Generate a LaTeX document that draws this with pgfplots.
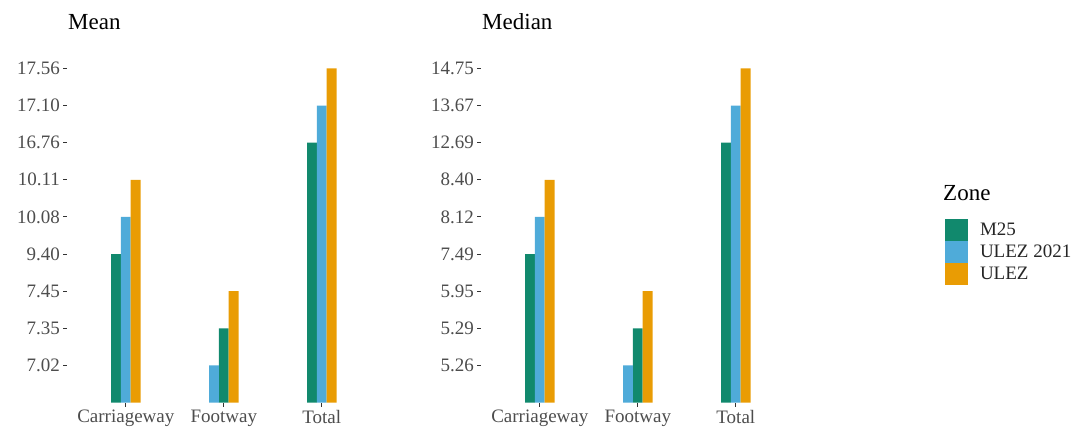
\documentclass[border=0pt]{standalone}
\usepackage{pgfplots}
\pgfplotsset{compat=1.18}
\usepackage{pgfplotstable}
\usepackage{fontspec}
\setmainfont{Liberation Serif}
\definecolor{cM}{HTML}{11896D}
\definecolor{cU}{HTML}{4FABD9}
\definecolor{cO}{HTML}{E99C04}
\definecolor{txt}{HTML}{4D4D4D}
\definecolor{tck}{HTML}{333333}

% x = bar position, rank = position of the value on the ordered y axis, value = the value
\pgfplotstableread{
x   rank value
0.9 4    9.40
2.0 2    7.35
2.9 7    16.76
}\meanM
\pgfplotstableread{
x   rank value
1.0 5    10.08
1.9 1    7.02
3.0 8    17.10
}\meanU
\pgfplotstableread{
x   rank value
1.1 6    10.11
2.1 3    7.45
3.1 9    17.56
}\meanO
\pgfplotstableread{
x   rank value
0.9 4    7.49
2.0 2    5.29
2.9 7    12.69
}\medM
\pgfplotstableread{
x   rank value
1.0 5    8.12
1.9 1    5.26
3.0 8    13.67
}\medU
\pgfplotstableread{
x   rank value
1.1 6    8.40
2.1 3    5.95
3.1 9    14.75
}\medO

\pgfplotsset{
  panel/.style={
    scale only axis, width=313.6pt, height=356.4pt,
    xmin=0.4, xmax=3.6, ymin=0, ymax=9.6,
    axis line style={draw=none},
    xtick={1,2,3}, xticklabels={Carriageway,Footway,Total},
    ytick={1,2,3,4,5,6,7,8,9},
    tick align=outside, tick pos=left, major tick length=4pt,
    tick style={color=tck, line width=0.9pt},
    ticklabel style={font=\fontsize{19}{21}\selectfont, text=txt},
    yticklabel style={inner xsep=3pt},
    clip=false,
  },
  barp/.style={ybar, bar width=0.1, bar shift=0pt, draw=none, fill=#1, forget plot},
  zonekey/.style={fill=#1, draw=none,
    legend image code/.code={\fill[##1] (0pt,-11pt) rectangle (23pt,11pt);}},
}

\begin{document}
\begin{tikzpicture}
\path[use as bounding box] (0,0) rectangle (1071pt,434pt);

\begin{axis}[panel, at={(67pt,31.5pt)}, anchor=origin,
  yticklabels={7.02,7.35,7.45,9.40,10.08,10.11,16.76,17.10,17.56}]
  \addplot[barp=cM] table[x=x, y=rank] {\meanM};
  \addplot[barp=cU] table[x=x, y=rank] {\meanU};
  \addplot[barp=cO] table[x=x, y=rank] {\meanO};
  \node[anchor=base west, inner sep=0pt, font=\fontsize{23}{25}\selectfont]
    at (rel axis cs:0,1) [xshift=1pt, yshift=17pt] {Mean};
\end{axis}

\begin{axis}[panel, at={(481pt,31.5pt)}, anchor=origin,
  yticklabels={5.26,5.29,5.95,7.49,8.12,8.40,12.69,13.67,14.75},
  legend style={name=leg, at={(1.4796,0.5149)}, anchor=north west,
    draw=none, fill=none, inner sep=0pt, outer sep=0pt, row sep=0pt,
    column sep=0pt,
    font=\fontsize{19}{21}\selectfont, text=black!85,
    nodes={inner ysep=0pt, inner xsep=0pt, outer sep=0pt, text height=17pt, text depth=5pt},
    /tikz/every odd column/.append style={column sep=12pt}},
  legend cell align=left]
  \addplot[barp=cM] table[x=x, y=rank] {\medM};
  \addplot[barp=cU] table[x=x, y=rank] {\medU};
  \addplot[barp=cO] table[x=x, y=rank] {\medO};
  \addlegendimage{zonekey=cM}\addlegendentry{M25}
  \addlegendimage{zonekey=cU}\addlegendentry{ULEZ 2021}
  \addlegendimage{zonekey=cO}\addlegendentry{ULEZ}
  \node[anchor=base west, inner sep=0pt, font=\fontsize{23}{25}\selectfont]
    at (rel axis cs:0,1) [xshift=1pt, yshift=17pt] {Median};
\end{axis}
\node[anchor=base west, inner sep=0pt, font=\fontsize{23}{25}\selectfont]
  at (leg.north west) [xshift=-2pt, yshift=18pt] {Zone};
\end{tikzpicture}
\end{document}
